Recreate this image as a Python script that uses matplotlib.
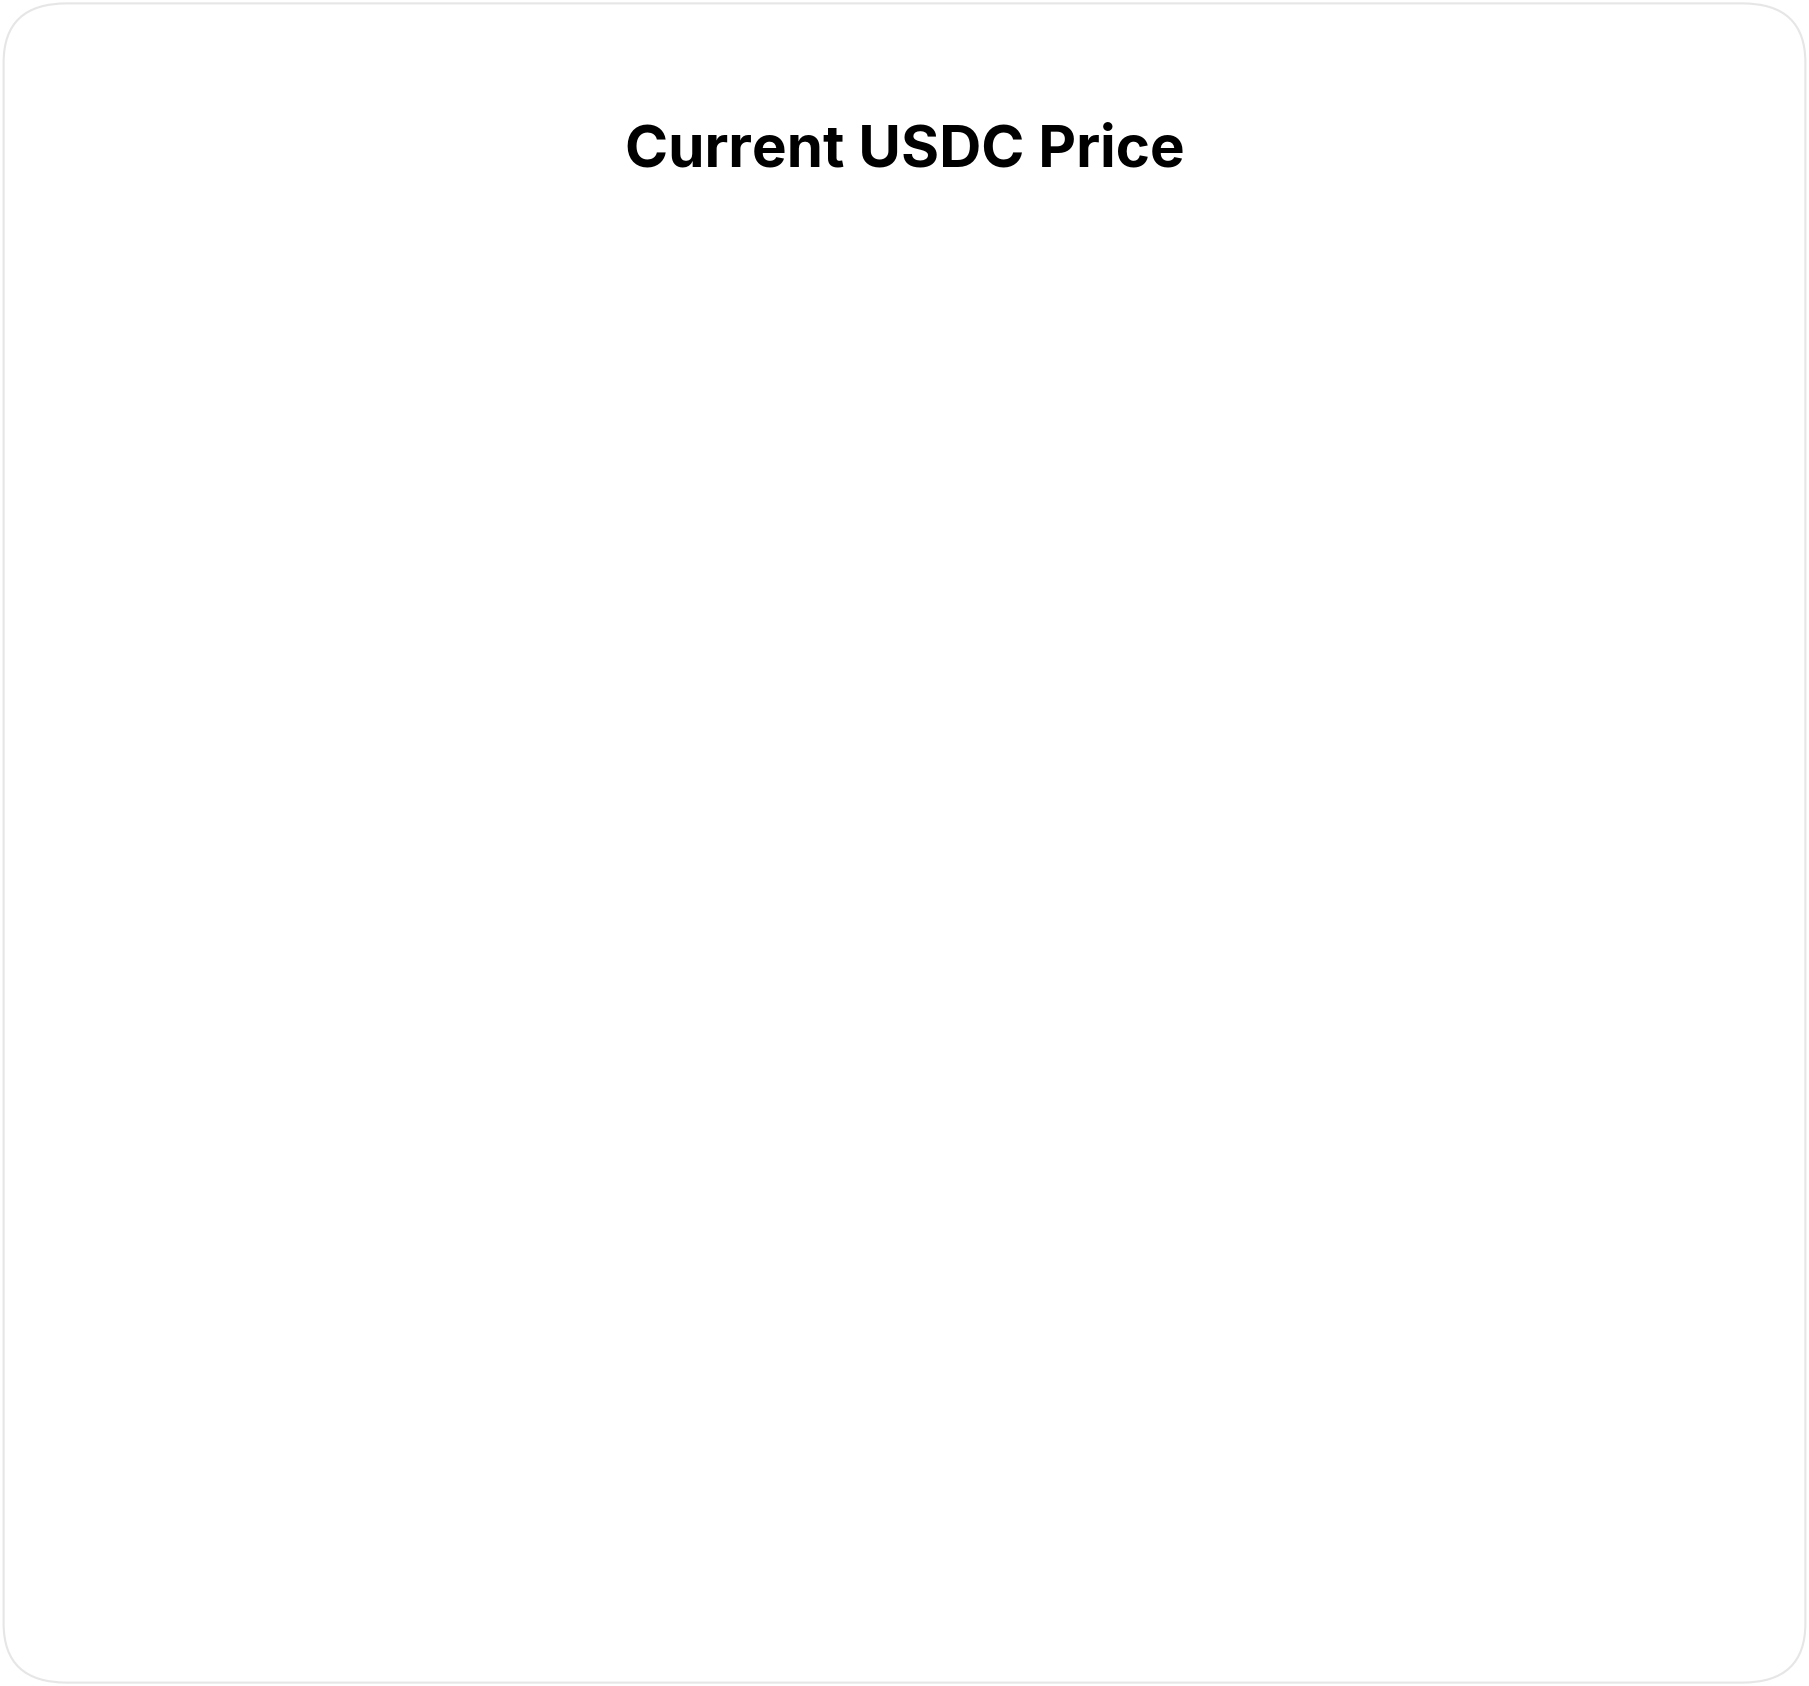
import matplotlib
matplotlib.use("Agg")
import matplotlib.pyplot as plt
import numpy as np
from matplotlib.patches import FancyBboxPatch, Polygon

x_pos = [-0.317, 0.166, 0.551, 0.900, 1.269, 1.654, 2.064, 2.860, 3.390, 3.910, 4.685, 5.780]
prices = [0.997581, 0.998453, 0.997556, 0.999085, 1.000162, 1.000419, 0.999829,
          0.998444, 1.000419, 0.999675, 1.001479, 0.999573]
tick_labels = ["10:00AM", "11:00AM", "12:00PM", "13:00PM", "14:00PM", "15:00PM", "15:00PM"]
y_ticks = [0.994, 0.995, 0.996, 0.997, 0.998, 0.999, 1.000, 1.001, 1.002]

plt.rcParams['font.family'] = ['Inter', 'DejaVu Sans']
fig = plt.figure(figsize=(18.09, 16.86), dpi=100)
fig.patch.set_facecolor("white")
card = FancyBboxPatch((0.002, 0.002), 0.996, 0.996, boxstyle="round,pad=0,rounding_size=0.035",
                      transform=fig.transFigure, facecolor="white", edgecolor="#e6e6e6", lw=1.5)
fig.patches.append(card)
fig.text(0.5, 0.91, "Current USDC Price", ha="center", va="center", fontsize=42, fontweight="bold")

ax = fig.add_axes([0.148, 0.0986, 0.813, 0.6404])
ax.set_xlim(-0.317, 6.314)
ax.set_ylim(0.994, 1.002)
for s in ax.spines.values():
    s.set_visible(False)
ax.set_yticks(y_ticks)
ax.set_yticklabels([f"{v:.3f}" for v in y_ticks])
ax.set_xticks(range(len(tick_labels)))
ax.set_xticklabels(tick_labels)
ax.tick_params(length=0, labelsize=20, labelcolor="#8a8a8a", pad=14)
ax.tick_params(axis="y", pad=38)
ax.grid(axis="y", color="#e3e3e3", lw=1.2)
ax.set_axisbelow(True)

fill_bottom = 0.99423
grad = np.linspace(0, 1, 256)
cols = np.zeros((256, 1, 4))
cols[:, 0, 0] = 0.80
cols[:, 0, 1] = 0.97
cols[:, 0, 2] = 0.85
cols[:, 0, 3] = grad * 0.75
im = ax.imshow(cols, extent=[x_pos[0], x_pos[-1], fill_bottom, max(prices)], origin="lower",
               aspect="auto", zorder=1)
poly = Polygon(list(zip(x_pos, prices)) + [(x_pos[-1], fill_bottom), (x_pos[0], fill_bottom)],
               closed=True, transform=ax.transData, facecolor="none", edgecolor="none")
ax.add_patch(poly)
im.set_clip_path(poly)
ax.set_xlim(-0.317, 6.314)
ax.set_ylim(0.994, 1.002)
ax.plot(x_pos, prices, color="#1dbf55", lw=6, solid_joinstyle="miter", zorder=3)

fig.savefig("out.png", dpi=100)
